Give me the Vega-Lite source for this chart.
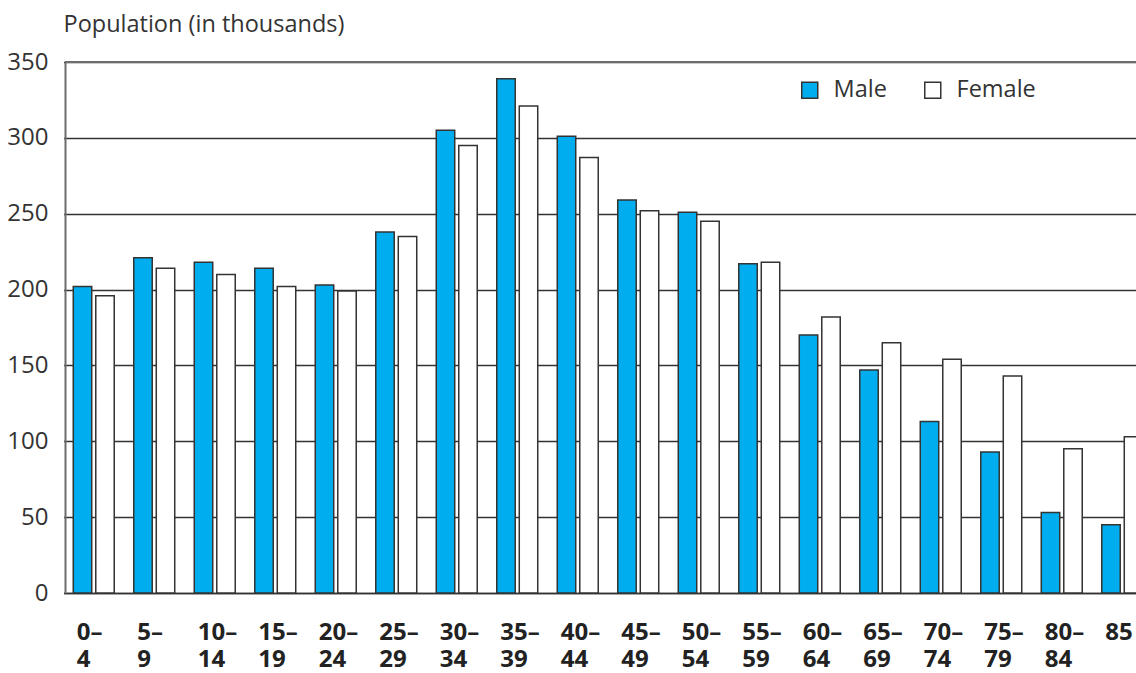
{
  "$schema": "https://vega.github.io/schema/vega-lite/v6.json",
  "width": 1071,
  "height": 531,
  "autosize": {"type": "none"},
  "padding": {"left": 65, "top": 62, "right": 0, "bottom": 80},
  "background": "white",
  "config": {"view": {"stroke": null}, "font": "Open Sans"},
  "data": {"values": [
    {"age": "0–4", "sex": "Male", "value": 202},
    {"age": "0–4", "sex": "Female", "value": 196},
    {"age": "5–9", "sex": "Male", "value": 221},
    {"age": "5–9", "sex": "Female", "value": 214},
    {"age": "10–14", "sex": "Male", "value": 218},
    {"age": "10–14", "sex": "Female", "value": 210},
    {"age": "15–19", "sex": "Male", "value": 214},
    {"age": "15–19", "sex": "Female", "value": 202},
    {"age": "20–24", "sex": "Male", "value": 203},
    {"age": "20–24", "sex": "Female", "value": 199},
    {"age": "25–29", "sex": "Male", "value": 238},
    {"age": "25–29", "sex": "Female", "value": 235},
    {"age": "30–34", "sex": "Male", "value": 305},
    {"age": "30–34", "sex": "Female", "value": 295},
    {"age": "35–39", "sex": "Male", "value": 339},
    {"age": "35–39", "sex": "Female", "value": 321},
    {"age": "40–44", "sex": "Male", "value": 301},
    {"age": "40–44", "sex": "Female", "value": 287},
    {"age": "45–49", "sex": "Male", "value": 259},
    {"age": "45–49", "sex": "Female", "value": 252},
    {"age": "50–54", "sex": "Male", "value": 251},
    {"age": "50–54", "sex": "Female", "value": 245},
    {"age": "55–59", "sex": "Male", "value": 217},
    {"age": "55–59", "sex": "Female", "value": 218},
    {"age": "60–64", "sex": "Male", "value": 170},
    {"age": "60–64", "sex": "Female", "value": 182},
    {"age": "65–69", "sex": "Male", "value": 147},
    {"age": "65–69", "sex": "Female", "value": 165},
    {"age": "70–74", "sex": "Male", "value": 113},
    {"age": "70–74", "sex": "Female", "value": 154},
    {"age": "75–79", "sex": "Male", "value": 93},
    {"age": "75–79", "sex": "Female", "value": 143},
    {"age": "80–84", "sex": "Male", "value": 53},
    {"age": "80–84", "sex": "Female", "value": 95},
    {"age": "85", "sex": "Male", "value": 45},
    {"age": "85", "sex": "Female", "value": 103}
  ]},
  "layer": [
    {
      "mark": {"type": "bar", "stroke": "#333333", "strokeWidth": 1.5},
      "encoding": {
        "x": {
          "field": "age", "type": "nominal", "sort": null,
          "scale": {"range": [-1.5, 1087.5], "paddingInner": 0, "paddingOuter": 0},
          "axis": {
            "title": null,
            "labelAngle": 0,
            "labelAlign": "left",
            "labelBaseline": "top",
            "labelOffset": -17,
            "labelPadding": 27,
            "labelFont": "Open Sans",
            "labelFontWeight": "bold",
            "labelFontSize": 24,
            "labelLineHeight": 27,
            "labelColor": "#222222",
            "labelOverlap": false,
            "labelBound": false,
            "labelExpr": "datum.label == '85' ? '85' : [slice(datum.label, 0, indexof(datum.label, '–') + 1), slice(datum.label, indexof(datum.label, '–') + 1)]",
            "ticks": false,
            "domainColor": "#333333",
            "domainWidth": 1.5,
            "grid": false
          }
        },
        "xOffset": {
          "field": "sex", "type": "nominal", "sort": ["Male", "Female"],
          "scale": {"paddingInner": 0.18, "paddingOuter": 0.434}
        },
        "y": {
          "field": "value", "type": "quantitative",
          "scale": {"domain": [0, 350], "nice": false},
          "axis": {
            "title": "Population (in thousands)",
            "titleAngle": 0,
            "titleAlign": "left",
            "titleBaseline": "alphabetic",
            "titleX": -2,
            "titleY": -31,
            "titleFont": "Open Sans",
            "titleFontWeight": "normal",
            "titleFontSize": 23.5,
            "titleColor": "#333333",
            "values": [0, 50, 100, 150, 200, 250, 300, 350],
            "labelFont": "Open Sans",
            "labelFontSize": 24,
            "labelColor": "#333333",
            "labelPadding": 17,
            "ticks": false,
            "domainColor": "#6d6d6d",
            "domainWidth": 2,
            "grid": true,
            "gridColor": "#333333",
            "gridWidth": 1.5,
            "gridOpacity": 1
          }
        },
        "fill": {
          "field": "sex", "type": "nominal",
          "scale": {"domain": ["Male", "Female"], "range": ["#00aeef", "#ffffff"]},
          "legend": {
            "title": null,
            "orient": "none",
            "legendX": 733,
            "legendY": 16,
            "direction": "horizontal",
            "symbolType": "square",
            "symbolSize": 256,
            "symbolStrokeColor": "#333333",
            "symbolStrokeWidth": 1.5,
            "symbolOpacity": 1,
            "labelFont": "Open Sans",
            "labelFontSize": 23.5,
            "labelColor": "#333333",
            "labelOffset": 12,
            "columnPadding": 34
          }
        }
      }
    },
    {
      "mark": {"type": "rule", "color": "#6d6d6d", "strokeWidth": 2},
      "encoding": {"y": {"datum": 350}}
    }
  ]
}
